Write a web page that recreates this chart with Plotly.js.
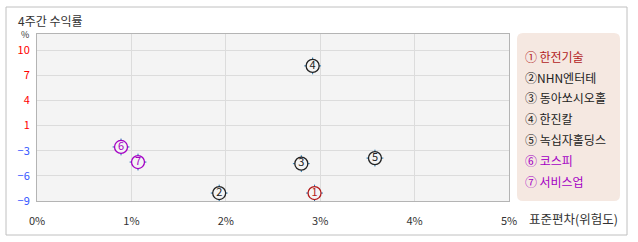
<!DOCTYPE html>
<html><head><meta charset="utf-8">
<script src="https://cdn.plot.ly/plotly-3.0.1.min.js"></script>
<style>html,body{margin:0;padding:0;background:#fff}</style>
</head><body><div id="chart" style="width:638px;height:242px"></div>
<script>
const names = ['한전기술','NHN엔터테','동아쏘시오홀','한진칼','녹십자홀딩스','코스피','서비스업'];
const marks = ['①\u2009','②','③ ','④\u2009','⑤ ','⑥ ','⑦\u2009'];
const digits = ['1','2','3','4','5','6','7'];
const stdev = [2.94, 1.93, 2.80, 2.92, 3.58, 0.89, 1.07];
const ret4w = [-8.0, -8.0, -4.3, 8.0, -3.6, -2.2, -4.1];
const colors = ['#b21c1c','#222222','#222222','#222222','#222222','#a400c4','#a400c4'];
const xTicks = [0,1,2,3,4,5];
const xTickText = ['0%','1%','2%','3%','4%','5%'];
const yMin = -9, yMax = 10;
const yTickText = ['-9','-6','-3','1','4','7','10'];
const yTickColors = ['#3355ff','#3355ff','#3355ff','#ff0000','#ff0000','#ff0000','#ff0000'];
const yTicks = yTickText.map((t,i)=> yMin + i*(yMax-yMin)/6);

const font = '"Noto Sans CJK KR", "Noto Sans", sans-serif';
const traces = [
  {x: stdev, y: ret4w, mode:'markers', hoverinfo:'skip',
   marker:{symbol:'cross-thin-open', size:12, line:{color:colors, width:1}}},
  {x: stdev, y: ret4w, mode:'markers+text', text:digits, textposition:'middle center',
   textfont:{family:font, size:11, color:colors}, hoverinfo:'skip',
   marker:{symbol:'circle', size:13, color:'#f4f4f4', line:{color:colors, width:1.3}}}
];

const L=37, R=509, T=34, B=201;
const px = v => (v-L)/(R-L);
const py = v => (B-v)/(B-T);
const annotations = [
  {text:'4주간 수익률', x:px(16), y:py(21), xref:'paper', yref:'paper', xanchor:'left', yanchor:'middle', showarrow:false, font:{family:font,size:12,color:'#333'}},
  {text:'%', x:px(25), y:py(34), xref:'paper', yref:'paper', xanchor:'center', yanchor:'middle', showarrow:false, font:{family:font,size:9,color:'#333'}},
  {text:'표준편차(위험도)', x:px(527), y:py(218), xref:'paper', yref:'paper', xanchor:'left', yanchor:'middle', showarrow:false, font:{family:font,size:12.5,color:'#333'}}
];
const legY = [56,77,97,118,139,160,181];
names.forEach((n,i)=>{
  annotations.push({text: marks[i]+n, x:px(523), y:py(legY[i]), xref:'paper', yref:'paper', xanchor:'left', yanchor:'middle', showarrow:false, font:{family:font,size:12,color:colors[i]}});
});

// rounded legend box
const bx0=px(517), bx1=px(620), by0=py(201), by1=py(33);
const rx=6/(R-L), ry=6/(B-T);
const path = `M ${bx0+rx},${by1} L ${bx1-rx},${by1} Q ${bx1},${by1} ${bx1},${by1-ry} L ${bx1},${by0+ry} Q ${bx1},${by0} ${bx1-rx},${by0} L ${bx0+rx},${by0} Q ${bx0},${by0} ${bx0},${by0+ry} L ${bx0},${by1-ry} Q ${bx0},${by1} ${bx0+rx},${by1} Z`;

const layout = {
  width:638, height:242, margin:{l:L, r:638-R, t:T, b:242-B},
  paper_bgcolor:'#ffffff', plot_bgcolor:'#f4f4f4', showlegend:false,
  font:{family:font, size:11, color:'#333'},
  xaxis:{range:[0,5], tickvals:xTicks, ticktext:xTickText, showgrid:true, gridcolor:'#dcdcdc', gridwidth:1,
         zeroline:false, showline:true, linecolor:'#b4b4b4', linewidth:1, mirror:true,
         ticks:'', ticklabelstandoff:10, tickfont:{family:font,size:11,color:'#333'}, fixedrange:true},
  yaxis:{range:[yMin, yMin + (B-T)*(yMax-yMin)/(B-50)], tickvals:yTicks,
         ticktext:yTickText.map((t,i)=>`<span style="color:${yTickColors[i]}">${t.replace('-','−')}</span>`),
         showgrid:true, gridcolor:'#dcdcdc', gridwidth:1, zeroline:false, showline:true, linecolor:'#b4b4b4', linewidth:1, mirror:true,
         ticks:'', ticklabelstandoff:4, tickfont:{family:font,size:11}, fixedrange:true},
  shapes:[
    {type:'rect', xref:'paper', yref:'paper', x0:px(6), x1:px(627), y0:py(235), y1:py(7), line:{color:'#c0c0c0', width:1}, fillcolor:'rgba(0,0,0,0)', layer:'below'},
    {type:'path', xref:'paper', yref:'paper', path:path, fillcolor:'#f5e8e1', line:{width:0}, layer:'below'}
  ],
  annotations:annotations
};
Plotly.newPlot('chart', traces, layout, {displayModeBar:false, staticPlot:true});
</script></body></html>
